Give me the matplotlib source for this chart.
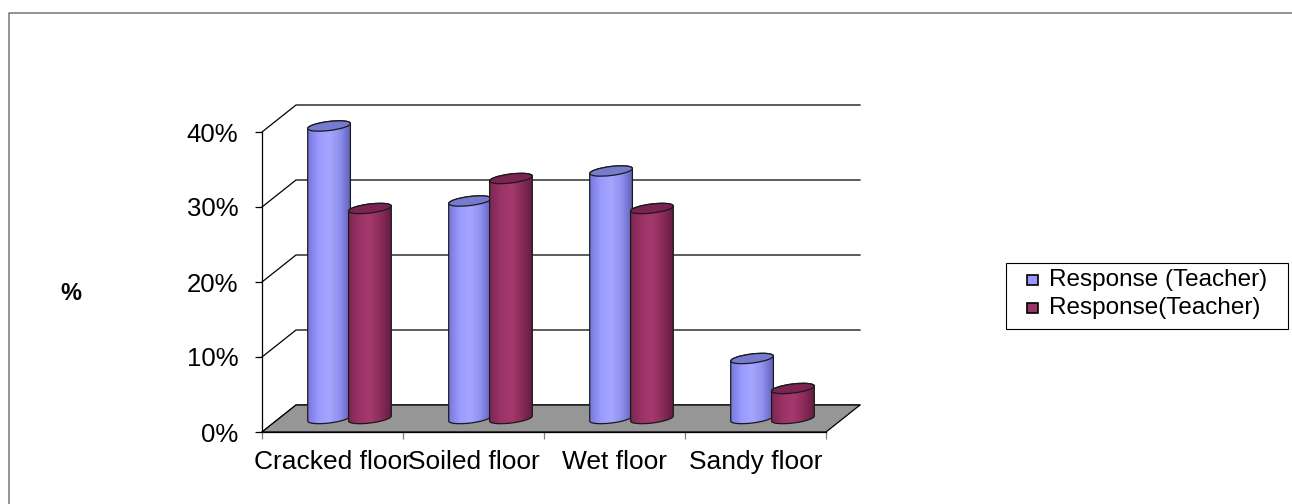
import numpy as np
import matplotlib
matplotlib.use("Agg")
import matplotlib.pyplot as plt
from matplotlib.patches import Polygon, Rectangle, Ellipse
from matplotlib.lines import Line2D
from matplotlib.transforms import IdentityTransform
from matplotlib.colors import LinearSegmentedColormap

# data
categories = ["Cracked floor", "Soiled floor", "Wet floor", "Sandy floor"]
series_names = ["Response (Teacher)", "Response(Teacher)"]
teacher_a = [0.39, 0.29, 0.33, 0.08]
teacher_b = [0.28, 0.32, 0.28, 0.04]
y_ticks = [0, 0.1, 0.2, 0.3, 0.4]
y_ticklabels = ["0%", "10%", "20%", "30%", "40%"]

W, H = 1292, 504
plt.rcParams['font.family'] = ['Liberation Sans', 'DejaVu Sans']
fig = plt.figure(figsize=(W / 100, H / 100), dpi=100)

# front plane of the 3-D box, in pixels
x0, x1, ytop, ybot = 262, 826, 132, 432
ax = fig.add_axes([x0 / W, 1 - ybot / H, (x1 - x0) / W, (ybot - ytop) / H])
ax.set_xlim(0, len(categories))
ax.set_ylim(0, 0.4)
ax.set_autoscale_on(False)
ax.patch.set_visible(False)
DX, DY = 34, 27   # depth of the box (pixels)
ident = IdentityTransform()


def px(x, v, depth=0.0):
    X, Y = ax.transData.transform((x, v))
    return X + depth * DX, Y + depth * DY


# back wall and left wall grid
n = len(categories)
for v in y_ticks:
    fx, fy = px(0, v)
    bx, by = px(0, v, 1)
    ex, ey = px(n, v, 1)
    ax.plot([fx, bx, ex], [fy, by, ey], color='black', lw=0.9,
            transform=ident, clip_on=False, zorder=1)

# floor
floor = [px(0, 0), px(n, 0), px(n, 0, 1), px(0, 0, 1)]
ax.add_patch(Polygon(floor, closed=True, fc='#969696', ec='black', lw=0.9,
                     transform=ident, clip_on=False, zorder=1.5))

blue_cmap = LinearSegmentedColormap.from_list(
    'b', ['#7878de', '#9a9aff', '#a6a6ff', '#8e8eee', '#6060b8'])
red_cmap = LinearSegmentedColormap.from_list(
    'r', ['#7f2755', '#9b3366', '#a5396d', '#8a2b5a', '#631c40'])
blue_top = '#777bd0'
red_top = '#7b2352'
bar_w = 0.305
off = 0.145


def cylinder(xc, v, cmap, top_color, z):
    cx, cb = px(xc, 0, 0.5)
    _, ct = px(xc, v, 0.5)
    a = (px(xc + bar_w / 2, 0)[0] - px(xc - bar_w / 2, 0)[0]) / 2
    b = 4.5
    th = np.deg2rad(7)
    t = np.linspace(0, 2 * np.pi, 361)
    ny = np.sin(th) * np.cos(t) / a + np.cos(th) * np.sin(t) / b
    cy = np.where(ny >= 0, ct, cb)
    xs = cx + a * np.cos(t) * np.cos(th) - b * np.sin(t) * np.sin(th)
    ys = cy + a * np.cos(t) * np.sin(th) + b * np.sin(t) * np.cos(th)
    body = Polygon(np.column_stack([xs, ys]), closed=True, fc='none',
                   ec='#1a1a1a', lw=0.9, transform=ident, clip_on=False,
                   zorder=z + 0.01)
    grad = np.linspace(0, 1, 64).reshape(1, -1)
    ax.imshow(grad, extent=(xs.min(), xs.max(), ys.min(), ys.max()),
              transform=ident, cmap=cmap, aspect='auto',
              interpolation='bilinear', clip_path=body, clip_box=fig.bbox,
              zorder=z)
    ax.add_patch(body)
    ax.add_patch(Ellipse((cx, ct), 2 * a, 2 * b, angle=7, fc=top_color,
                         ec='#1a1a1a', lw=0.9, transform=ident,
                         clip_on=False, zorder=z + 0.02))


for i in range(n):
    cylinder(i + 0.5 - off, teacher_a[i], blue_cmap, blue_top, 3 + i * 0.2)
    cylinder(i + 0.5 + off, teacher_b[i], red_cmap, red_top, 3.1 + i * 0.2)

ax.set_xlim(0, n)
ax.set_ylim(0, 0.4)

# axes and ticks
ax.set_yticks(y_ticks)
ax.set_yticklabels(y_ticklabels)
ax.tick_params(axis='y', direction='out', length=5, width=0.9, pad=12,
               labelsize=18.5)
ax.set_xticks(range(n + 1))
ax.set_xticklabels([])
ax.set_xticks(np.arange(n) + 0.5, minor=True)
ax.set_xticklabels(categories, minor=True)
ax.tick_params(axis='x', which='major', direction='out', length=5,
               width=0.9, color='#808080')
ax.tick_params(axis='x', which='minor', length=0, pad=13, labelsize=19)
for s in ['top', 'right']:
    ax.spines[s].set_visible(False)
ax.spines['left'].set_linewidth(0.9)
ax.spines['bottom'].set_linewidth(0.9)

fig.text(71 / W, 1 - 293 / H, '%', fontsize=17, fontweight='bold',
         ha='center', va='center')

# chart border
fig.add_artist(Line2D([8.5 / W, 8.5 / W, 1], [0, 1 - 13 / H, 1 - 13 / H],
                      transform=fig.transFigure, color='#808080', lw=1.2))

# legend
lx0, ly0, lx1, ly1 = 1006, 263, 1288, 329
fig.add_artist(Rectangle((lx0 / W, 1 - ly1 / H), (lx1 - lx0) / W,
                         (ly1 - ly0) / H, transform=fig.transFigure,
                         fc='white', ec='black', lw=0.8))
for k, (name, col) in enumerate(zip(series_names, ['#9999ff', '#993366'])):
    yc = 280 + 28 * k
    fig.add_artist(Rectangle((1027 / W, 1 - (yc + 5) / H), 11 / W, 10 / H,
                             transform=fig.transFigure, fc=col, ec='black',
                             lw=1.2))
    fig.text(1049 / W, 1 - yc / H, name, fontsize=17.5, va='center',
             ha='left')

fig.savefig('out.png', dpi=100)
